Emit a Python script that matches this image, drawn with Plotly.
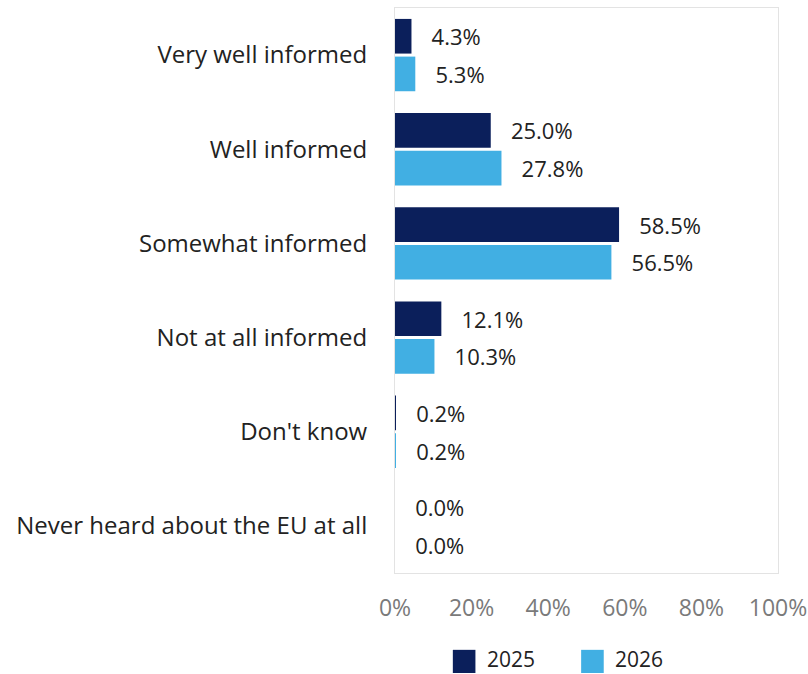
import plotly.graph_objects as go

categories = ["Very well informed", "Well informed", "Somewhat informed",
              "Not at all informed", "Don't know", "Never heard about the EU at all"]
series_names = ["2025", "2026"]
values_2025 = [4.3, 25.0, 58.5, 12.1, 0.2, 0.0]
values_2026 = [5.3, 27.8, 56.5, 10.3, 0.2, 0.0]
colors = ["#0b1f5b", "#41afe3"]
tick_vals = [0, 20, 40, 60, 80, 100]
tick_text = ["0%", "20%", "40%", "60%", "80%", "100%"]

FONT = "Open Sans"
pad = "\u00a0" * 3

fig = go.Figure()
for name, vals, col in zip(series_names, [values_2025, values_2026], colors):
    fig.add_trace(go.Bar(
        y=categories, x=vals, name=name, orientation="h",
        marker=dict(color=col, line=dict(width=0)),
        text=[f"{pad}{v:.1f}%" for v in vals],
        textposition="outside", cliponaxis=False,
        textfont=dict(family=FONT, size=22, color="#222222"),
        showlegend=False,
    ))

fig.update_layout(
    width=808, height=674,
    barmode="group", bargap=0.2, bargroupgap=0.08,
    paper_bgcolor="white", plot_bgcolor="white",
    margin=dict(l=395, r=30, t=8, b=101, pad=0),
    font=dict(family=FONT),
    showlegend=False,
)
fig.update_yaxes(
    autorange="reversed", showgrid=False, ticks="", automargin=False,
    tickfont=dict(family=FONT, size=24, color="#222222"),
    ticklabelstandoff=22,
    showline=True, linecolor="#e3e3e3", linewidth=1, mirror=True,
)
fig.update_xaxes(
    range=[0, 100], tickvals=tick_vals, ticktext=tick_text,
    showgrid=False, zeroline=False, ticks="", automargin=False,
    tickfont=dict(family=FONT, size=23, color="#7a7a7a"),
    ticklabelstandoff=14,
    showline=True, linecolor="#e3e3e3", linewidth=1, mirror=True,
)

# legend drawn as shapes + annotations (large squares)
legend_x = [0.151, 0.486]
for nm, col, lx in zip(series_names, colors, legend_x):
    fig.add_shape(type="rect", xref="paper", yref="paper",
                  x0=lx, x1=lx + 0.059, y0=-0.177, y1=-0.136,
                  fillcolor=col, line=dict(width=0))
    fig.add_annotation(xref="paper", yref="paper", x=lx + 0.084, y=-0.153,
                       text=nm, showarrow=False, xanchor="left", yanchor="middle",
                       font=dict(family=FONT, size=21, color="#222222"))

fig.write_html(
    "out.html",
    config={"displayModeBar": False},
    post_script="document.body.style.margin='0';document.body.style.overflow='hidden';",
)
